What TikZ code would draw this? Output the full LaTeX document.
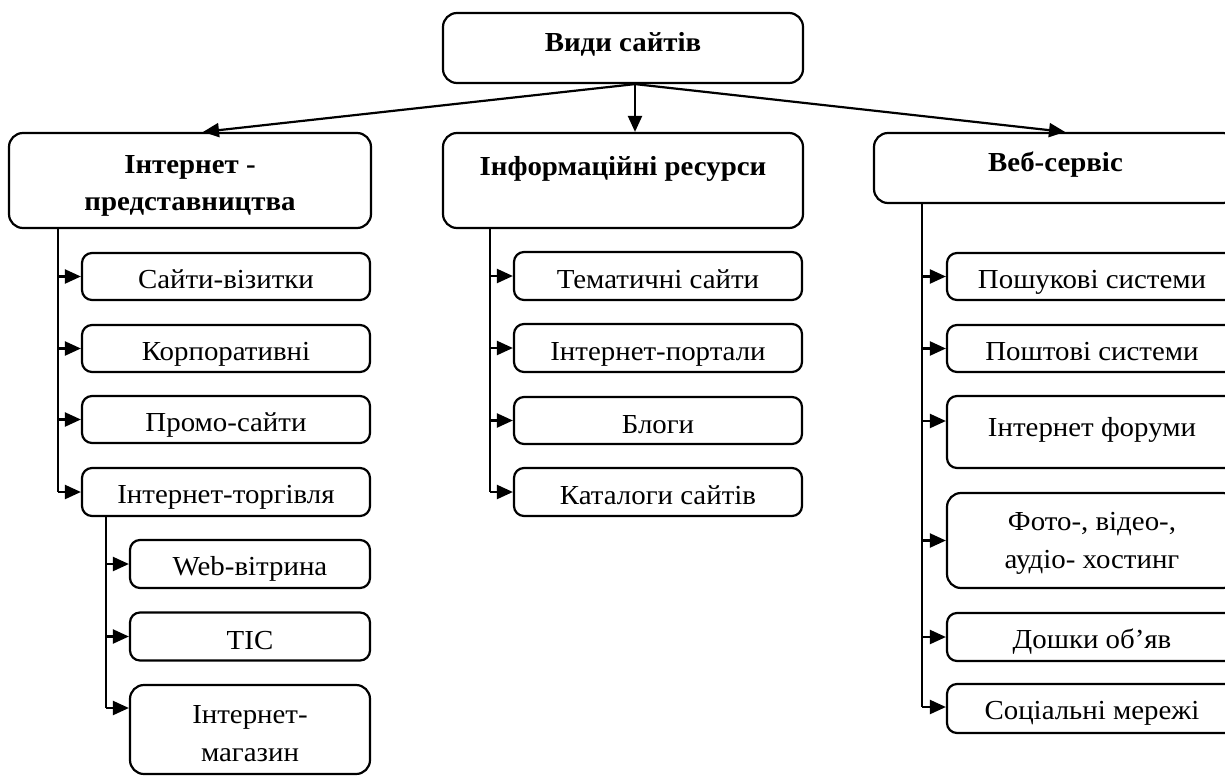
\documentclass[tikz,border=0pt]{standalone}
\usepackage{fontspec}
\setmainfont{Liberation Serif}[FakeStretch=1.05]
\usetikzlibrary{arrows.meta}
\begin{document}
\begin{tikzpicture}[x=1pt,y=-1pt,
  bigbox/.style={draw,line width=2.2pt,rounded corners=14pt,inner sep=0pt},
  smallbox/.style={draw,line width=2.2pt,rounded corners=10pt,inner sep=0pt},
  btxt/.style={anchor=base,inner sep=0pt,align=center,font=\fontsize{27.5}{37}\selectfont\bfseries},
  ntxt/.style={anchor=base,inner sep=0pt,align=center,font=\fontsize{27.5}{38}\selectfont},
  ln/.style={line width=2.2pt},
  arr/.style={line width=2.2pt,-{Triangle[length=16pt,width=14pt]}}
]
\useasboundingbox (0,0) rectangle (1225,776);

% main boxes
\node[bigbox,minimum width=360pt,minimum height=70pt] (top) at (623,48) {};
\node[btxt] (topt) at ([yshift=-40pt]top.north) {Види сайтів};
\node[bigbox,minimum width=362pt,minimum height=95pt] (left) at (190,180.5) {};
\node[btxt] (leftt) at ([yshift=-79pt]left.north) {Інтернет -\\представництва};
\node[bigbox,minimum width=360pt,minimum height=95pt] (mid) at (623,180.5) {};
\node[btxt] (midt) at ([yshift=-44pt]mid.north) {Інформаційні ресурси};
\node[bigbox,minimum width=363pt,minimum height=70pt] (right) at (1055.5,168) {};
\node[btxt] (rightt) at ([yshift=-40pt]right.north) {Веб-сервіс};

% top arrows
\draw[arr] ([xshift=12pt]top.south) -- ([xshift=13pt]left.north);
\draw[arr] ([xshift=12pt]top.south) -- ([xshift=12pt]mid.north);
\draw[arr] ([xshift=12pt]top.south) -- ([xshift=9.5pt]right.north);

% left column
\node[smallbox,minimum width=288pt,minimum height=47pt] (a1) at (226,276.5) {};
\node[ntxt] (a1t) at ([yshift=-37pt]a1.north) {Сайти-візитки};
\node[smallbox,minimum width=288pt,minimum height=47pt] (a2) at (226,348.5) {};
\node[ntxt] (a2t) at ([yshift=-37pt]a2.north) {Корпоративні};
\node[smallbox,minimum width=288pt,minimum height=47pt] (a3) at (226,419.5) {};
\node[ntxt] (a3t) at ([yshift=-37pt]a3.north) {Промо-сайти};
\node[smallbox,minimum width=288pt,minimum height=48pt] (a4) at (226,492) {};
\node[ntxt] (a4t) at ([yshift=-37pt]a4.north) {Інтернет-торгівля};

\node[smallbox,minimum width=240pt,minimum height=48pt] (b1) at (250,564) {};
\node[ntxt] (b1t) at ([yshift=-37pt]b1.north) {Web-вітрина};
\node[smallbox,minimum width=240pt,minimum height=48pt] (b2) at (250,636.5) {};
\node[ntxt] (b2t) at ([yshift=-38pt]b2.north) {ТІС};
\node[bigbox,minimum width=240pt,minimum height=89pt] (b3) at (250,729.5) {};
\node[ntxt] (b3t) at ([yshift=-78pt]b3.north) {Інтернет-\\магазин};

\coordinate (LT) at (58,228);
\coordinate (LB) at (58,492);
\draw[ln] (LT) -- (LB);
\foreach \n in {a1,a2,a3,a4} \draw[arr] (LT |- \n.west) -- (\n.west);

\coordinate (ST) at (106,516);
\coordinate (SB) at (106,708);
\draw[ln] (ST) -- (SB);
\draw[arr] (ST |- b1.west) -- (b1.west);
\draw[arr] (ST |- b2.west) -- (b2.west);
\draw[arr] (SB) -- ([yshift=21.5pt]b3.west);

% middle column
\node[smallbox,minimum width=288pt,minimum height=48pt] (m1) at (658,276) {};
\node[ntxt] (m1t) at ([yshift=-38pt]m1.north) {Тематичні сайти};
\node[smallbox,minimum width=288pt,minimum height=48pt] (m2) at (658,348) {};
\node[ntxt] (m2t) at ([yshift=-38pt]m2.north) {Інтернет-портали};
\node[smallbox,minimum width=288pt,minimum height=47pt] (m3) at (658,420.5) {};
\node[ntxt] (m3t) at ([yshift=-38pt]m3.north) {Блоги};
\node[smallbox,minimum width=288pt,minimum height=48pt] (m4) at (658,492) {};
\node[ntxt] (m4t) at ([yshift=-38pt]m4.north) {Каталоги сайтів};

\coordinate (MT) at (490,228);
\coordinate (MB) at (490,492);
\draw[ln] (MT) -- (MB);
\foreach \n in {m1,m2,m3,m4} \draw[arr] (MT |- \n.west) -- (\n.west);

% right column
\node[smallbox,minimum width=290pt,minimum height=47pt] (r1) at (1092,276.5) {};
\node[ntxt] (r1t) at ([yshift=-37pt]r1.north) {Пошукові системи};
\node[smallbox,minimum width=290pt,minimum height=47pt] (r2) at (1092,348.5) {};
\node[ntxt] (r2t) at ([yshift=-37pt]r2.north) {Поштові системи};
\node[smallbox,minimum width=290pt,minimum height=72pt] (r3) at (1092,432) {};
\node[ntxt] (r3t) at ([yshift=-42pt]r3.north) {Інтернет форуми};
\node[bigbox,minimum width=290pt,minimum height=95pt] (r4) at (1092,540.5) {};
\node[ntxt] (r4t) at ([yshift=-77pt]r4.north) {Фото-, відео-,\\аудіо- хостинг};
\node[smallbox,minimum width=290pt,minimum height=48pt] (r5) at (1092,637) {};
\node[ntxt] (r5t) at ([yshift=-37pt]r5.north) {Дошки об’яв};
\node[smallbox,minimum width=290pt,minimum height=49pt] (r6) at (1092,708.5) {};
\node[ntxt] (r6t) at ([yshift=-37pt]r6.north) {Соціальні мережі};

\coordinate (RT) at (922,203);
\coordinate (RB) at (922,707);
\draw[ln] (RT) -- (RB);
\draw[arr] (RT |- r1.west) -- (r1.west);
\draw[arr] (RT |- r2.west) -- (r2.west);
\draw[arr] (RT |- 0,421) -- (r3.west |- 0,421);
\draw[arr] (RT |- r4.west) -- (r4.west);
\draw[arr] (RT |- r5.west) -- (r5.west);
\draw[arr] (RB) -- (r6.west |- RB);
\end{tikzpicture}
\end{document}
